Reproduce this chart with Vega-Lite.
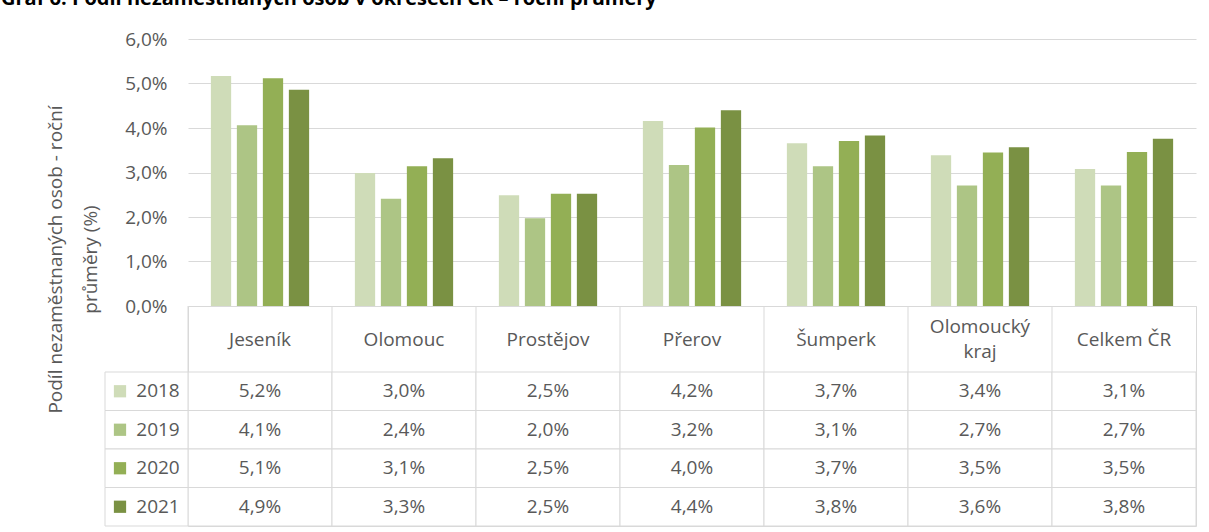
{
  "$schema": "https://vega.github.io/schema/vega-lite/v6.json",
  "background": "white",
  "padding": {"left": 0, "top": -12, "right": 10, "bottom": 5},
  "spacing": 0,
  "bounds": "flush",
  "title": {
    "text": "Graf 6: Podíl nezaměstnaných osob v okresech ČR – roční průměry",
    "anchor": "start", "frame": "bounds", "dx": -45, "offset": 21.5,
    "font": "Open Sans", "fontSize": 20, "fontWeight": "bold", "color": "#000000"
  },
  "config": {
    "locale": {"number": {"decimal": ",", "thousands": " ", "grouping": [3], "currency": ["", " Kč"]}},
    "font": "Open Sans",
    "view": {"stroke": "#d9d9d9"},
    "axis": {"labelFont": "Open Sans", "titleFont": "Open Sans", "labelColor": "#595959", "titleColor": "#595959"}
  },
  "datasets": {
    "d": [
      {"okres": "Jeseník", "rok": "2018", "podil": 0.0517},
      {"okres": "Jeseník", "rok": "2019", "podil": 0.0406},
      {"okres": "Jeseník", "rok": "2020", "podil": 0.0512},
      {"okres": "Jeseník", "rok": "2021", "podil": 0.0486},
      {"okres": "Olomouc", "rok": "2018", "podil": 0.0299},
      {"okres": "Olomouc", "rok": "2019", "podil": 0.0241},
      {"okres": "Olomouc", "rok": "2020", "podil": 0.0314},
      {"okres": "Olomouc", "rok": "2021", "podil": 0.0332},
      {"okres": "Prostějov", "rok": "2018", "podil": 0.0249},
      {"okres": "Prostějov", "rok": "2019", "podil": 0.0197},
      {"okres": "Prostějov", "rok": "2020", "podil": 0.0252},
      {"okres": "Prostějov", "rok": "2021", "podil": 0.0252},
      {"okres": "Přerov", "rok": "2018", "podil": 0.0416},
      {"okres": "Přerov", "rok": "2019", "podil": 0.0317},
      {"okres": "Přerov", "rok": "2020", "podil": 0.0401},
      {"okres": "Přerov", "rok": "2021", "podil": 0.0440},
      {"okres": "Šumperk", "rok": "2018", "podil": 0.0366},
      {"okres": "Šumperk", "rok": "2019", "podil": 0.0314},
      {"okres": "Šumperk", "rok": "2020", "podil": 0.0371},
      {"okres": "Šumperk", "rok": "2021", "podil": 0.0383},
      {"okres": "Olomoucký kraj", "rok": "2018", "podil": 0.0339},
      {"okres": "Olomoucký kraj", "rok": "2019", "podil": 0.0271},
      {"okres": "Olomoucký kraj", "rok": "2020", "podil": 0.0345},
      {"okres": "Olomoucký kraj", "rok": "2021", "podil": 0.0357},
      {"okres": "Celkem ČR", "rok": "2018", "podil": 0.0308},
      {"okres": "Celkem ČR", "rok": "2019", "podil": 0.0271},
      {"okres": "Celkem ČR", "rok": "2020", "podil": 0.0346},
      {"okres": "Celkem ČR", "rok": "2021", "podil": 0.0376}
    ]
  },
  "vconcat": [
    {
      "width": 1008,
      "height": 267,
      "view": {"stroke": null},
      "data": {"name": "d"},
      "mark": {"type": "bar"},
      "encoding": {
        "x": {"field": "okres", "type": "nominal", "scale": {"domain": ["Jeseník", "Olomouc", "Prostějov", "Přerov", "Šumperk", "Olomoucký kraj", "Celkem ČR"], "paddingInner": 0, "paddingOuter": 0}, "axis": null},
        "xOffset": {"field": "rok", "type": "nominal", "scale": {"domain": ["2018", "2019", "2020", "2021"], "paddingInner": 0.22, "paddingOuter": 0.88}},
        "y": {
          "field": "podil", "type": "quantitative",
          "scale": {"domain": [0, 0.06], "nice": false},
          "axis": {
            "values": [0, 0.01, 0.02, 0.03, 0.04, 0.05, 0.06],
            "format": ".1%",
            "grid": true, "gridColor": "#d9d9d9", "gridWidth": 1,
            "domain": false, "ticks": false,
            "labelPadding": 21, "labelFontSize": 19,
            "title": ["Podíl nezaměstnaných osob - roční", "průměry (%)"],
            "titleFontSize": 19, "titleFontWeight": "normal",
            "titleAngle": -90, "titleBaseline": "bottom", "titleAlign": "center",
            "titleX": -123, "titleY": 220, "titleLineHeight": 35
          }
        },
        "color": {"field": "rok", "type": "nominal", "scale": {"domain": ["2018", "2019", "2020", "2021"], "range": ["#CFDCB8", "#ADC585", "#93AF55", "#7A9143"]}, "legend": null}
      }
    },
    {
      "width": 1008,
      "height": 66,
      "data": {"name": "d"},
      "transform": [{"filter": "datum.rok == '2018'"}],
      "mark": {"type": "rule", "color": "#d9d9d9"},
      "encoding": {
        "x": {
          "field": "okres", "type": "nominal", "bandPosition": 0,
          "scale": {"domain": ["Jeseník", "Olomouc", "Prostějov", "Přerov", "Šumperk", "Olomoucký kraj", "Celkem ČR"], "paddingInner": 0, "paddingOuter": 0},
          "axis": {
            "title": null, "domain": false, "ticks": false, "grid": false,
            "labelPadding": {"condition": {"test": "datum.label == 'Olomoucký kraj'", "value": -45.5}, "value": -33},
            "labelBaseline": "middle", "labelAngle": 0,
            "labelFontSize": 19, "labelLineHeight": 25,
            "labelExpr": "datum.label == 'Olomoucký kraj' ? ['Olomoucký', 'kraj'] : datum.label"
          }
        }
      }
    },
    {
      "width": 1008,
      "height": 154,
      "data": {"name": "d"},
      "resolve": {"scale": {"x": "independent"}},
      "layer": [
        {
          "mark": {"type": "rect", "fill": "white", "stroke": "#d9d9d9", "strokeWidth": 1},
          "encoding": {
            "x": {"field": "okres", "type": "nominal", "scale": {"domain": ["Jeseník", "Olomouc", "Prostějov", "Přerov", "Šumperk", "Olomoucký kraj", "Celkem ČR"], "paddingInner": 0, "paddingOuter": 0}, "axis": null},
            "y": {"field": "rok", "type": "nominal", "scale": {"domain": ["2018", "2019", "2020", "2021"], "paddingInner": 0, "paddingOuter": 0}, "axis": null}
          }
        },
        {
          "mark": {"type": "text", "fontSize": 19, "color": "#595959", "baseline": "middle", "align": "center"},
          "encoding": {
            "x": {"field": "okres", "type": "nominal", "scale": {"domain": ["Jeseník", "Olomouc", "Prostějov", "Přerov", "Šumperk", "Olomoucký kraj", "Celkem ČR"], "paddingInner": 0, "paddingOuter": 0}, "axis": null},
            "y": {"field": "rok", "type": "nominal", "scale": {"domain": ["2018", "2019", "2020", "2021"], "paddingInner": 0, "paddingOuter": 0}, "axis": null},
            "text": {"field": "podil", "type": "quantitative", "format": ".1%"}
          }
        },
        {
          "transform": [{"filter": "datum.okres == 'Jeseník'"}],
          "layer": [
            {
              "mark": {"type": "rect", "fill": "white", "stroke": "#d9d9d9", "strokeWidth": 1},
              "encoding": {
                "x": {"datum": "legenda", "type": "nominal", "scale": {"type": "band", "range": [-83, 0], "paddingInner": 0, "paddingOuter": 0}, "axis": null},
                "y": {"field": "rok", "type": "nominal", "scale": {"domain": ["2018", "2019", "2020", "2021"], "paddingInner": 0, "paddingOuter": 0}, "axis": null}
              }
            },
            {
              "mark": {"type": "point", "shape": "square", "filled": true, "opacity": 1, "size": 150, "xOffset": -26.5},
              "encoding": {
                "x": {"datum": "legenda", "type": "nominal", "scale": {"type": "band", "range": [-83, 0], "paddingInner": 0, "paddingOuter": 0}, "axis": null},
                "y": {"field": "rok", "type": "nominal", "scale": {"domain": ["2018", "2019", "2020", "2021"], "paddingInner": 0, "paddingOuter": 0}, "axis": null},
                "color": {"field": "rok", "type": "nominal", "scale": {"domain": ["2018", "2019", "2020", "2021"], "range": ["#CFDCB8", "#ADC585", "#93AF55", "#7A9143"]}, "legend": null}
              }
            },
            {
              "mark": {"type": "text", "fontSize": 19, "color": "#595959", "baseline": "middle", "align": "center", "dx": 11.5},
              "encoding": {
                "x": {"datum": "legenda", "type": "nominal", "scale": {"type": "band", "range": [-83, 0], "paddingInner": 0, "paddingOuter": 0}, "axis": null},
                "y": {"field": "rok", "type": "nominal", "scale": {"domain": ["2018", "2019", "2020", "2021"], "paddingInner": 0, "paddingOuter": 0}, "axis": null},
                "text": {"field": "rok", "type": "nominal"}
              }
            }
          ]
        }
      ]
    }
  ]
}
